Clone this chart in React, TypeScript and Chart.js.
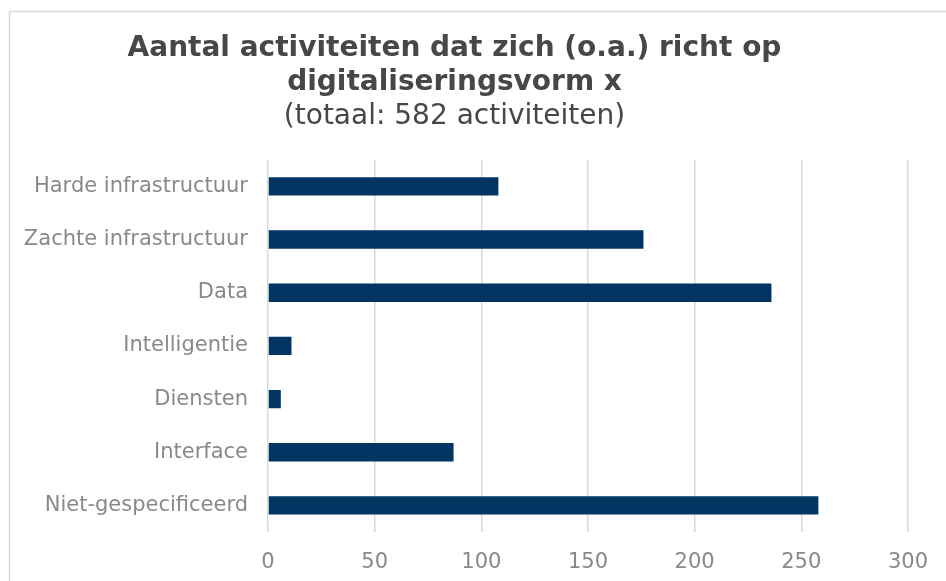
import React, { useEffect, useRef } from "react";
import { Chart, registerables } from "chart.js";

Chart.register(...registerables);

const categories = [
  "Harde infrastructuur",
  "Zachte infrastructuur",
  "Data",
  "Intelligentie",
  "Diensten",
  "Interface",
  "Niet-gespecificeerd",
];
const values = [108, 176, 236, 11, 6, 87, 258];
const titleLines = ["Aantal activiteiten dat zich (o.a.) richt op", "digitaliseringsvorm x"];
const subtitleText = "(totaal: 582 activiteiten)";
const xMin = 0;
const xMax = 300;
const xStep = 50;

const FONT = "'DejaVu Sans', Verdana, sans-serif";

const framePlugin = {
  id: "frame",
  beforeDraw(chart: any) {
    const ctx = chart.ctx;
    ctx.save();
    ctx.fillStyle = "#ffffff";
    ctx.fillRect(0, 0, chart.width, chart.height);
    ctx.strokeStyle = "#d9d9d9";
    ctx.lineWidth = 1.5;
    ctx.strokeRect(9.5, 11.5, chart.width + 100, chart.height + 100);
    ctx.restore();
  },
};

export default function App() {
  const ref = useRef<HTMLCanvasElement | null>(null);
  useEffect(() => {
    if (!ref.current) return;
    const chart = new Chart(ref.current, {
      type: "bar",
      data: {
        labels: categories,
        datasets: [
          {
            data: values,
            backgroundColor: "#023562",
            borderWidth: 0,
            categoryPercentage: 1,
            barPercentage: 0.345,
          },
        ],
      },
      options: {
        indexAxis: "y",
        responsive: false,
        animation: false,
        layout: { padding: { left: 0, right: 37, top: 0, bottom: 0 } },
        plugins: {
          legend: { display: false },
          tooltip: { enabled: false },
          title: {
            display: true,
            text: titleLines,
            color: "#474747",
            font: { family: FONT, size: 28, weight: "bold", lineHeight: 1.21 },
            padding: { top: 32, bottom: 0 },
          },
          subtitle: {
            display: true,
            text: subtitleText,
            color: "#474747",
            font: { family: FONT, size: 28, weight: "normal", lineHeight: 1.0 },
            padding: { top: 3, bottom: 29 },
          },
        },
        scales: {
          x: {
            min: xMin,
            max: xMax,
            ticks: {
              stepSize: xStep,
              color: "#898989",
              font: { family: FONT, size: 21 },
              padding: 18,
            },
            grid: { color: "#d9d9d9", lineWidth: 1.5, drawTicks: false },
            border: { display: false },
            afterFit: (scale: any) => {
              scale.height = 49;
            },
          },
          y: {
            ticks: {
              color: "#898989",
              font: { family: FONT, size: 21 },
              padding: 20,
            },
            grid: { display: false, drawTicks: false },
            border: { display: false },
            afterFit: (scale: any) => {
              scale.width = 268;
            },
          },
        },
      },
      plugins: [framePlugin],
    });
    return () => chart.destroy();
  }, []);
  return (
    <div style={{ position: "absolute", left: 0, top: 0, width: 946, height: 581 }}>
      <canvas ref={ref} width={946} height={581} />
    </div>
  );
}
